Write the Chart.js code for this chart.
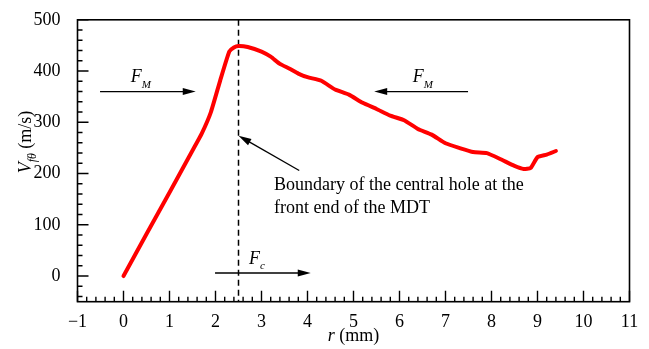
<!DOCTYPE html>
<html>
<head>
<meta charset="utf-8">
<script src="https://cdn.jsdelivr.net/npm/chart.js@4/dist/chart.umd.min.js"></script>
<style>
    html, body { margin: 0; padding: 0; background: #fff; }
    #wrap { width: 649px; height: 349px; }
</style>
</head>
<body>
<div id="wrap"><canvas id="speedGraph" width="649" height="349"></canvas></div>
<script>
// radial position r (mm) and tangential speed V (m/s)
const rValues = [0, 0.5, 1.0, 1.5, 1.7, 1.9, 2.1, 2.3, 2.4, 2.5, 2.7, 3.0, 3.2, 3.4, 3.6, 3.8, 4.0, 4.3, 4.6, 4.9, 5.2, 5.5, 5.8, 6.1, 6.4, 6.7, 7.0, 7.3, 7.6, 7.9, 8.2, 8.5, 8.7, 8.85, 9.0, 9.2, 9.4];
const speedValues = [0, 82, 163, 245, 278, 320, 381, 438, 446, 449, 447, 438, 428, 414, 405, 395, 388, 381, 364, 354, 338, 326, 313, 304, 287, 276, 259, 250, 242, 240, 228, 215, 209, 211, 232, 237, 244];

const xTicks = [-1, 0, 1, 2, 3, 4, 5, 6, 7, 8, 9, 10, 11];
const yTicks = [0, 100, 200, 300, 400, 500];

const boundaryR = 2.5;
const boundaryText = ['Boundary of the central hole at the', 'front end of the MDT'];

const serif = "'Liberation Serif', 'Times New Roman', serif";

// draw a run of text pieces (italic / subscript) starting at x
function drawRich(c, parts, x, y) {
    let cx = x;
    parts.forEach(p => {
        c.font = (p.italic ? 'italic ' : '') + p.size + 'px ' + serif;
        c.fillText(p.t, cx, y + (p.dy || 0));
        cx += c.measureText(p.t).width;
    });
    return cx - x;
}

function richWidth(c, parts) {
    let w = 0;
    parts.forEach(p => {
        c.font = (p.italic ? 'italic ' : '') + p.size + 'px ' + serif;
        w += c.measureText(p.t).width;
    });
    return w;
}

function arrow(c, x1, y1, x2, y2) {
    const ang = Math.atan2(y2 - y1, x2 - x1);
    const len = 13, half = 3.5;
    c.beginPath();
    c.moveTo(x1, y1);
    c.lineTo(x2 - Math.cos(ang) * len * 0.8, y2 - Math.sin(ang) * len * 0.8);
    c.stroke();
    c.beginPath();
    c.moveTo(x2, y2);
    c.lineTo(x2 - Math.cos(ang) * len - Math.sin(ang) * half, y2 - Math.sin(ang) * len + Math.cos(ang) * half);
    c.lineTo(x2 - Math.cos(ang) * len + Math.sin(ang) * half, y2 - Math.sin(ang) * len - Math.cos(ang) * half);
    c.closePath();
    c.fill();
}

// frame, inward ticks, titles and annotations
const decorations = {
    id: 'decorations',
    beforeDatasetsDraw(chart) {
        const c = chart.ctx;
        const a = chart.chartArea;
        const xs = chart.scales.x;
        c.save();
        // dashed boundary line
        c.strokeStyle = '#000';
        c.lineWidth = 1.5;
        c.setLineDash([6, 4]);
        const bx = xs.getPixelForValue(boundaryR);
        c.beginPath();
        c.moveTo(bx, a.top);
        c.lineTo(bx, a.bottom);
        c.stroke();
        c.restore();
    },
    afterDraw(chart) {
        const c = chart.ctx;
        const a = chart.chartArea;
        const xs = chart.scales.x, ys = chart.scales.y;
        c.save();
        c.strokeStyle = '#000';
        c.fillStyle = '#000';
        c.lineWidth = 1.6;
        c.strokeRect(a.left, a.top, a.right - a.left, a.bottom - a.top);

        // x ticks, major every 1, minor every 0.2
        c.lineWidth = 1.4;
        c.beginPath();
        for (let i = 0; i <= 60; i++) {
            const px = xs.getPixelForValue(-1 + i * 0.2);
            const len = i % 5 === 0 ? 11 : 5;
            c.moveTo(px, a.bottom);
            c.lineTo(px, a.bottom - len);
        }
        // y ticks, major every 100, minor every 20
        for (let i = -2; i <= 25; i++) {
            const py = ys.getPixelForValue(i * 20);
            const len = i % 5 === 0 ? 11 : 5;
            c.moveTo(a.left, py);
            c.lineTo(a.left + len, py);
        }
        c.stroke();

        // axis titles
        c.textBaseline = 'alphabetic';
        const xTitle = [{ t: 'r', italic: true, size: 18 }, { t: ' (mm)', size: 18 }];
        const xw = richWidth(c, xTitle);
        drawRich(c, xTitle, (a.left + a.right) / 2 - xw / 2, 341);

        const yTitle = [{ t: 'V', italic: true, size: 18 }, { t: 'fθ', italic: true, size: 12, dy: 5 }, { t: ' (m/s)', size: 18 }];
        const yw = richWidth(c, yTitle);
        c.save();
        c.translate(31, 142);
        c.rotate(-Math.PI / 2);
        drawRich(c, yTitle, -yw / 2, 0);
        c.restore();

        // force arrows
        c.lineWidth = 1.3;
        const fy = ys.getPixelForValue(360);
        arrow(c, xs.getPixelForValue(-0.51), fy, xs.getPixelForValue(1.57), fy);
        arrow(c, xs.getPixelForValue(7.49), fy, xs.getPixelForValue(5.45), fy);
        const cy = ys.getPixelForValue(6);
        arrow(c, xs.getPixelForValue(1.99), cy, xs.getPixelForValue(4.07), cy);

        const fm = [{ t: 'F', italic: true, size: 18 }, { t: 'M', italic: true, size: 11, dy: 6 }];
        drawRich(c, fm, xs.getPixelForValue(0.16), ys.getPixelForValue(378));
        drawRich(c, fm, xs.getPixelForValue(6.29), ys.getPixelForValue(378));
        const fc = [{ t: 'F', italic: true, size: 18 }, { t: 'c', italic: true, size: 11, dy: 5 }];
        drawRich(c, fc, xs.getPixelForValue(2.73), ys.getPixelForValue(24));

        // pointer to the boundary line
        arrow(c, xs.getPixelForValue(3.82), ys.getPixelForValue(206), xs.getPixelForValue(boundaryR), ys.getPixelForValue(274));
        c.font = '18px ' + serif;
        const tx = xs.getPixelForValue(3.27);
        const ty = ys.getPixelForValue(167);
        boundaryText.forEach((line, i) => c.fillText(line, tx, ty + i * 23));
        c.restore();
    }
};

let speedChart;

document.addEventListener('DOMContentLoaded', function () {
    const ctx = document.getElementById('speedGraph').getContext('2d');

    const points = rValues.map((r, i) => ({ x: r, y: speedValues[i] }));

    speedChart = new Chart(ctx, {
        type: 'line',
        data: {
            datasets: [{
                data: points,
                borderColor: '#ff0000',
                borderWidth: 4,
                fill: false,
                pointRadius: 0,
                tension: 0.15,
                borderCapStyle: 'round',
                borderJoinStyle: 'round'
            }]
        },
        options: {
            responsive: false,
            animation: false,
            layout: { padding: { left: 0, top: 19, right: 19.5, bottom: 0 } },
            scales: {
                x: {
                    type: 'linear',
                    min: -1,
                    max: 11,
                    afterBuildTicks: s => { s.ticks = xTicks.map(v => ({ value: v })); },
                    afterFit: s => { s.height = 47.3; },
                    grid: { display: false },
                    border: { display: false },
                    ticks: {
                        color: '#000',
                        padding: 2,
                        maxRotation: 0,
                        font: { family: serif, size: 18 },
                        callback: v => v < 0 ? '\u2212' + Math.abs(v) : String(v)
                    }
                },
                y: {
                    min: -50,
                    max: 500,
                    afterBuildTicks: s => { s.ticks = yTicks.map(v => ({ value: v })); },
                    afterFit: s => { s.width = 77.5; },
                    grid: { display: false },
                    border: { display: false },
                    ticks: {
                        color: '#000',
                        padding: 9,
                        font: { family: serif, size: 18 }
                    }
                }
            },
            plugins: {
                legend: { display: false },
                tooltip: { enabled: false }
            }
        },
        plugins: [decorations]
    });
});
</script>
</body>
</html>
